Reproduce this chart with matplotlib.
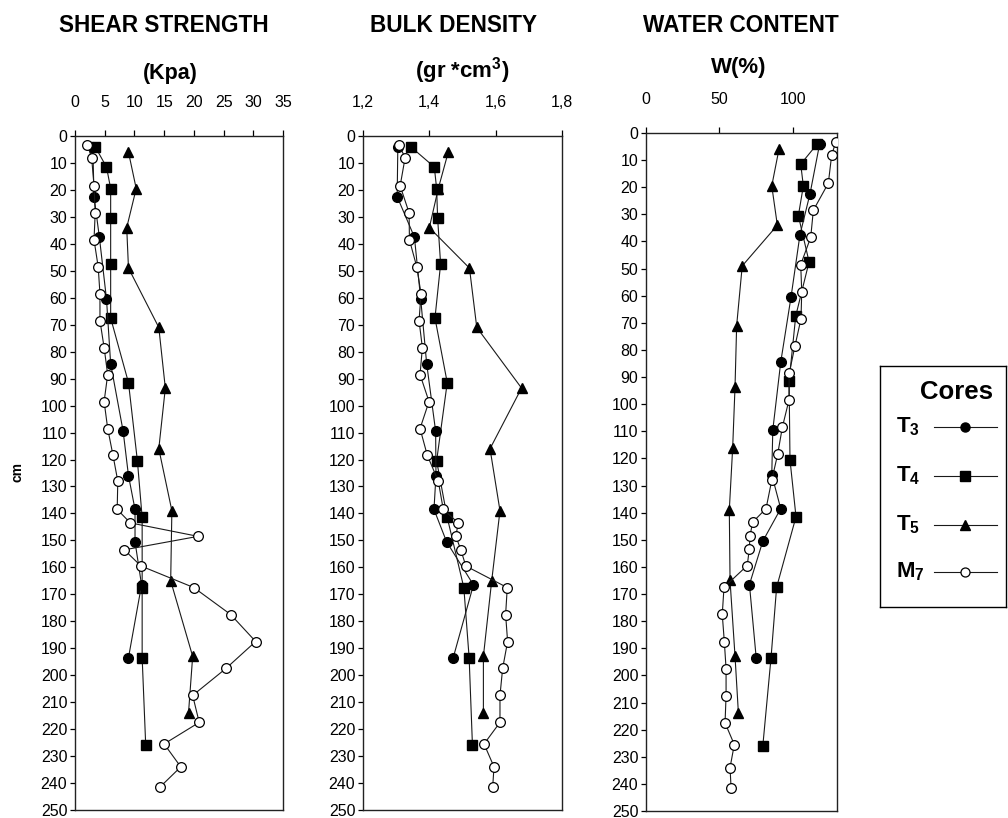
import matplotlib
matplotlib.use("Agg")
import matplotlib.pyplot as plt
from matplotlib.lines import Line2D
from matplotlib.ticker import FuncFormatter

plt.rcParams['font.family'] = ['Liberation Sans', 'DejaVu Sans']
plt.rcParams['mathtext.fontset'] = 'custom'
plt.rcParams['mathtext.rm'] = 'Liberation Sans'
plt.rcParams['mathtext.bf'] = 'Liberation Sans:bold'

# ---------------- data ----------------
t3_depth = [4, 22.5, 37.5, 60.5, 84.5, 109.5, 126, 138.5, 150.5, 166.5, 193.5]
t3_shear = [3.0, 3.2, 4.1, 5.3, 6.0, 8.1, 9.0, 10.1, 10.1, 11.2, 9.0]
t3_density = [1.305, 1.303, 1.355, 1.374, 1.392, 1.419, 1.420, 1.414, 1.452, 1.533, 1.472]
t3_water = [118.2, 111.6, 104.8, 98.7, 91.7, 86.3, 85.6, 91.7, 79.5, 70.4, 75.0]

t4_depth = [4, 11.5, 19.5, 30.5, 47.5, 67.5, 91.5, 120.5, 141.5, 167.5, 193.5, 226]
t4_shear = [3.4, 5.3, 6.0, 6.0, 6.0, 6.0, 9.0, 10.5, 11.3, 11.3, 11.3, 11.9]
t4_density = [1.344, 1.415, 1.422, 1.425, 1.434, 1.417, 1.454, 1.422, 1.454, 1.504, 1.520, 1.530]
t4_water = [116.6, 105.3, 107.1, 103.7, 111.0, 101.9, 97.4, 98.0, 102.1, 88.9, 85.1, 79.5]

t5_depth = [6, 19.5, 34, 49, 71, 93.5, 116, 139, 165, 193, 214]
t5_shear = [9.0, 10.3, 8.7, 9.0, 14.1, 15.2, 14.1, 16.3, 16.1, 19.8, 19.1]
t5_density = [1.457, 1.427, 1.400, 1.521, 1.543, 1.678, 1.583, 1.613, 1.588, 1.563, 1.563]
t5_water = [90.5, 85.6, 89.4, 65.5, 61.7, 60.6, 59.0, 56.7, 57.2, 60.6, 62.9]

m7_depth = [3.5, 8, 18.5, 28.5, 38.5, 48.5, 58.5, 68.5, 78.5, 88.5, 98.5, 108.5, 118.5,
            128, 138.5, 143.5, 148.5, 153.5, 159.5, 167.5, 177.5, 187.5, 197.5, 207.5,
            217.5, 225.5, 234, 241.5]
m7_shear = [2.1, 2.8, 3.2, 3.4, 3.2, 3.9, 4.2, 4.2, 4.9, 5.5, 4.9, 5.5, 6.4, 7.2, 7.1,
            9.3, 20.7, 8.3, 11.1, 20.0, 26.2, 30.4, 25.4, 19.8, 20.9, 15.0, 17.8, 14.3]
m7_density = [1.309, 1.327, 1.312, 1.339, 1.340, 1.362, 1.375, 1.369, 1.379, 1.372, 1.399,
              1.372, 1.394, 1.427, 1.442, 1.487, 1.480, 1.495, 1.510, 1.635, 1.630, 1.636,
              1.621, 1.613, 1.613, 1.565, 1.595, 1.591]
m7_water = [129.1, 126.4, 124.1, 113.9, 112.1, 105.3, 106.0, 105.5, 101.4, 97.5, 97.3,
            92.8, 89.6, 85.6, 81.7, 72.6, 70.8, 70.3, 68.9, 53.1, 51.9, 53.3, 54.5, 54.5,
            53.8, 60.1, 57.2, 57.9]

depth_ticks = list(range(0, 251, 10))
shear_ticks = [0, 5, 10, 15, 20, 25, 30, 35]
density_ticks = [1.2, 1.4, 1.6, 1.8]
water_ticks = [0, 50, 100]

core_labels = [r'$\mathbf{T_3}$', r'$\mathbf{T_4}$', r'$\mathbf{T_5}$', r'$\mathbf{M_7}$']

# ---------------- styles ----------------
LC = '#1a1a1a'
styles = {
    'T3': dict(marker='o', mfc='black', mec='black', ms=7),
    'T4': dict(marker='s', mfc='black', mec='black', ms=7),
    'T5': dict(marker='^', mfc='black', mec='black', ms=7),
    'M7': dict(marker='o', mfc='white', mec='black', ms=7, mew=0.9),
}

W, H = 1008, 818
fig = plt.figure(figsize=(W / 100, H / 100), dpi=100)


def px_rect(x0, x1, y0, y1):
    return [x0 / W, 1 - y1 / H, (x1 - x0) / W, (y1 - y0) / H]


ax1 = fig.add_axes(px_rect(75, 283, 136, 810))
ax2 = fig.add_axes(px_rect(363, 562, 136, 810))
ax3 = fig.add_axes(px_rect(646, 837, 133, 811))

panels = [
    (ax1, (0, 35), shear_ticks, [t3_shear, t4_shear, t5_shear, m7_shear], FuncFormatter(lambda v, p: f"{v:g}")),
    (ax2, (1.2, 1.8), density_ticks, [t3_density, t4_density, t5_density, m7_density],
     FuncFormatter(lambda v, p: f"{v:.1f}".replace('.', ','))),
    (ax3, (0, 130), water_ticks, [t3_water, t4_water, t5_water, m7_water], FuncFormatter(lambda v, p: f"{v:g}")),
]
depths = [t3_depth, t4_depth, t5_depth, m7_depth]
keys = ['T3', 'T4', 'T5', 'M7']

for ax, xl, xt, vals, fmt in panels:
    for k, d, v, z in zip(keys, depths, vals, [3, 2, 2, 4]):
        ax.plot(v, d, color=LC, lw=0.8, zorder=z, **styles[k])
    ax.set_xlim(*xl)
    ax.set_ylim(250, 0)
    ax.set_xticks(xt)
    ax.xaxis.set_major_formatter(fmt)
    ax.set_yticks(depth_ticks)
    ax.xaxis.tick_top()
    ax.tick_params(axis='x', direction='out', length=4, width=0.9, pad=15, labelsize=11.5)
    ax.tick_params(axis='y', direction='out', length=3.5, width=0.9, pad=2, labelsize=11.5)
    for s in ax.spines.values():
        s.set_linewidth(1.0)
        s.set_color('#222222')

fig.text(18 / W, 1 - 472 / H, 'cm', rotation=90, ha='center', va='center',
         fontsize=10, fontweight='bold')

# titles
fig.text(164 / W, 1 - 25 / H, 'SHEAR STRENGTH', ha='center', va='center', fontsize=16.3, fontweight='bold')
fig.text(170 / W, 1 - 73 / H, '(Kpa)', ha='center', va='center', fontsize=15.5, fontweight='bold')
fig.text(454 / W, 1 - 25 / H, 'BULK DENSITY', ha='center', va='center', fontsize=16.3, fontweight='bold')
fig.text(462 / W, 1 - 71 / H, r'(gr *cm$^{\mathbf{3}}$)', ha='center', va='center', fontsize=16, fontweight='bold')
fig.text(741 / W, 1 - 25 / H, 'WATER CONTENT', ha='center', va='center', fontsize=16.3, fontweight='bold')
fig.text(739 / W, 1 - 67 / H, 'W(%)', ha='center', va='center', fontsize=16, fontweight='bold')

# legend box
lax = fig.add_axes(px_rect(880, 1006, 366, 607))
lax.set_xlim(0, 1)
lax.set_ylim(0, 1)
lax.set_xticks([])
lax.set_yticks([])
for s in lax.spines.values():
    s.set_linewidth(1.0)
lax.text(0.61, 0.892, 'Cores', ha='center', va='center', fontsize=18.5, fontweight='bold')
ys = [0.747, 0.544, 0.340, 0.145]
for k, lab, y in zip(keys, core_labels, ys):
    lax.text(0.13, y, lab, ha='left', va='center', fontsize=16)
    lax.add_line(Line2D([0.43, 0.93], [y, y], color=LC, lw=0.8))
    st = dict(styles[k])
    st['ms'] = 6.5
    lax.add_line(Line2D([0.675], [y], linestyle='none', **st))

fig.savefig('out.png', dpi=100, facecolor='white')
